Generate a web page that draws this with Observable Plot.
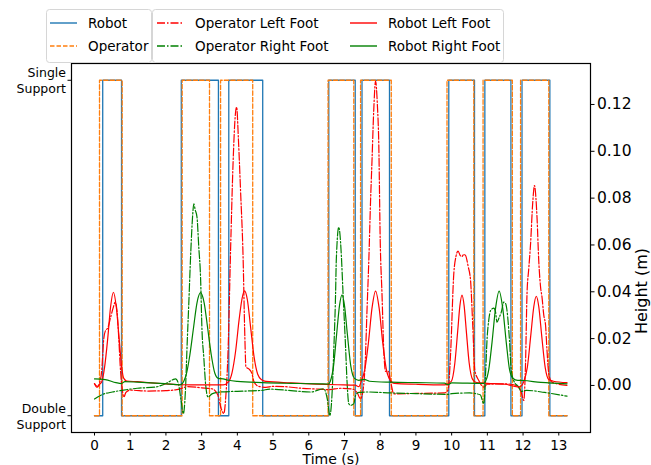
<!DOCTYPE html>
<html><head><meta charset="utf-8">
<script src="https://cdn.jsdelivr.net/npm/d3@7"></script>
<script src="https://cdn.jsdelivr.net/npm/@observablehq/plot@0.6"></script>
<style>
body{margin:0;background:#fff;}
#wrap{position:relative;width:651px;height:465px;font-family:"DejaVu Sans",sans-serif;overflow:hidden;}
#wrap > svg{position:absolute;left:0;top:0;}
</style></head><body><div id="wrap"></div>
<script>
// ---------- data ----------
const xTicks = [0,1,2,3,4,5,6,7,8,9,10,11,12,13];
const heightTicks = [0,0.02,0.04,0.06,0.08,0.10,0.12];
const phaseTicks = [0,1];
const phaseLabels = ["Double\nSupport","Single\nSupport"];

// support phase steps: [time, 0=double / 1=single]
const robotPhase = [[0,0],[0.23,1],[0.757,0],[2.43,1],[3.47,0],[3.76,1],[4.71,0],[6.56,1],[7.3,0],[7.49,1],[8.26,0],[9.92,1],[10.64,0],[10.93,1],[11.66,0],[11.97,1],[12.75,0],[13.23,0]];
const operatorPhase = [[0,0],[0.14,1],[0.775,0],[2.455,1],[3.22,0],[3.53,1],[4.43,0],[6.54,1],[7.26,0],[7.45,1],[8.31,0],[9.87,1],[10.62,0],[10.88,1],[11.7,0],[11.93,1],[12.72,0],[13.23,0]];

// foot heights: [time (s), height (m)]
const operatorLeftFoot = [[0,0.0007],[0.07,-0.0008],[0.14,0.001],[0.2,0.006],[0.26,0.02],[0.31,0.0235],[0.37,0.0245],[0.45,0.029],[0.52,0.033],[0.58,0.0355],[0.63,0.032],[0.68,0.02],[0.73,0.006],[0.78,-0.002],[0.82,-0.005],[0.88,-0.003],[1.0,-0.002],[1.5,-0.0024],[2.0,-0.0022],[2.3,-0.0018],[2.45,-0.0012],[2.6,-0.0005],[3.0,-0.001],[3.3,-0.0015],[3.45,-0.004],[3.55,-0.01],[3.62,-0.012],[3.68,-0.004],[3.74,0.015],[3.81,0.0577],[3.88,0.095],[3.94,0.115],[3.98,0.1189],[4.03,0.105],[4.09,0.083],[4.16,0.055],[4.21,0.0206],[4.24,0.0078],[4.32,0.0071],[4.41,0.005],[4.47,0.0014],[4.6,-0.0004],[4.8,-0.0008],[5.0,-0.0004],[5.3,-0.0005],[5.8,-0.0012],[6.3,-0.0016],[6.55,-0.0018],[6.9,-0.0012],[7.2,-0.0015],[7.35,-0.003],[7.45,-0.0057],[7.52,-0.002],[7.58,0.01],[7.63,0.032],[7.68,0.053],[7.73,0.079],[7.77,0.096],[7.82,0.118],[7.87,0.13],[7.92,0.12],[7.96,0.103],[8.0,0.062],[8.05,0.039],[8.1,0.015],[8.15,0.006],[8.23,0.006],[8.3,0.001],[8.38,-0.0036],[9.0,-0.0034],[9.8,-0.0032],[9.9,-0.002],[9.97,0.0135],[10.06,0.0477],[10.12,0.055],[10.18,0.0574],[10.24,0.0555],[10.29,0.0551],[10.34,0.056],[10.39,0.0555],[10.46,0.051],[10.53,0.0448],[10.59,0.026],[10.65,0.0064],[10.76,0.0021],[10.85,-0.0002],[10.9,-0.0007],[11.0,0.0005],[11.5,0.0007],[11.8,0.0],[11.95,-0.003],[12.02,-0.0064],[12.07,0.01],[12.11,0.039],[12.16,0.05],[12.21,0.0605],[12.27,0.078],[12.32,0.0854],[12.36,0.08],[12.39,0.0719],[12.44,0.053],[12.49,0.042],[12.53,0.0377],[12.58,0.03],[12.63,0.0256],[12.67,0.015],[12.72,0.005],[12.8,0.0015],[12.95,0.0007],[13.23,0.0]];
const operatorRightFoot = [[0,-0.0058],[0.2,-0.004],[0.5,-0.0028],[0.77,-0.0021],[1.2,-0.0012],[1.7,-0.0007],[2.07,0.0014],[2.2,0.0025],[2.27,0.0028],[2.35,0.0007],[2.42,-0.006],[2.49,-0.012],[2.54,-0.004],[2.6,0.02],[2.64,0.0349],[2.69,0.0548],[2.75,0.073],[2.78,0.0776],[2.82,0.075],[2.87,0.0719],[2.92,0.059],[2.97,0.046],[3.01,0.0235],[3.06,0.0121],[3.11,0.0007],[3.18,-0.005],[3.29,-0.0036],[3.53,-0.0028],[4.0,-0.0025],[4.69,-0.0021],[4.9,-0.0016],[5.5,-0.0022],[6.05,-0.0028],[6.42,-0.0014],[6.52,-0.006],[6.59,-0.0128],[6.65,-0.004],[6.7,0.015],[6.75,0.039],[6.77,0.0534],[6.84,0.0676],[6.87,0.065],[6.91,0.056],[6.96,0.039],[7.03,0.0164],[7.07,0.002],[7.12,-0.0078],[7.17,-0.0085],[7.26,-0.0078],[7.31,-0.0043],[7.4,-0.003],[7.63,-0.0028],[8.3,-0.0032],[9.0,-0.0035],[9.9,-0.0038],[10.0,-0.0035],[10.5,-0.0032],[10.8,-0.004],[10.9,-0.0078],[10.95,0.005],[10.99,0.0192],[11.04,0.028],[11.09,0.032],[11.13,0.0327],[11.18,0.033],[11.23,0.0313],[11.27,0.027],[11.33,0.029],[11.39,0.0313],[11.46,0.0356],[11.51,0.035],[11.55,0.032],[11.62,0.0192],[11.67,0.0064],[11.74,0.002],[11.88,-0.0007],[11.95,-0.0025],[12.1,-0.0021],[12.6,-0.003],[13.23,-0.0046]];
const robotLeftFoot = [[0,0.0008],[0.08,-0.0004],[0.15,0.0006],[0.2,0.0015],[0.28,0.0075],[0.37,0.02],[0.45,0.0335],[0.53,0.0398],[0.61,0.0335],[0.69,0.02],[0.76,0.008],[0.82,0.003],[0.9,0.0019],[1.2,0.0016],[1.6,0.0011],[2.0,0.0007],[2.4,0.0003],[3.0,0.0002],[3.6,0.0002],[3.75,0.0015],[3.85,0.0054],[3.95,0.0145],[4.05,0.0282],[4.13,0.037],[4.2,0.0404],[4.28,0.0366],[4.37,0.025],[4.47,0.012],[4.57,0.0048],[4.68,0.0024],[4.8,0.0017],[5.5,0.0011],[6.2,0.0006],[6.8,0.0003],[7.3,0.0001],[7.4,-0.0005],[7.47,0.0018],[7.57,0.007],[7.67,0.0183],[7.77,0.033],[7.87,0.0403],[7.97,0.033],[8.07,0.0183],[8.17,0.007],[8.27,0.0025],[8.4,0.0009],[9.0,0.0005],[9.8,0.0002],[9.99,0.0017],[10.09,0.0096],[10.17,0.0233],[10.23,0.0339],[10.29,0.0386],[10.35,0.034],[10.41,0.0234],[10.49,0.0097],[10.59,0.0025],[10.7,0.0012],[11.0,0.0009],[11.5,0.0005],[11.85,-0.0006],[11.95,-0.0002],[12.02,0.0017],[12.12,0.0078],[12.22,0.022],[12.3,0.0336],[12.37,0.0381],[12.44,0.0336],[12.52,0.0215],[12.62,0.0076],[12.72,0.0025],[12.85,0.0018],[13.23,0.0012]];
const robotRightFoot = [[0,0.0028],[0.3,0.0025],[0.6,0.0012],[0.75,0.0008],[0.85,0.0016],[1.2,0.0014],[1.7,0.001],[2.1,0.0006],[2.4,0.0003],[2.5,0.0018],[2.58,0.0054],[2.67,0.013],[2.77,0.0243],[2.87,0.0353],[2.97,0.0396],[3.07,0.0353],[3.17,0.0243],[3.27,0.013],[3.37,0.0052],[3.47,0.003],[3.6,0.0028],[3.75,0.0022],[4.0,0.0017],[4.7,0.0012],[5.5,0.0009],[6.3,0.0007],[6.55,0.0006],[6.6,0.0017],[6.69,0.0079],[6.78,0.0219],[6.86,0.0341],[6.93,0.0387],[7.0,0.0341],[7.08,0.0219],[7.18,0.0079],[7.28,0.003],[7.4,0.0022],[7.55,0.0026],[7.7,0.0018],[8.3,0.0014],[9.0,0.0012],[9.8,0.001],[9.9,0.0003],[10.0,0.0011],[10.9,0.0009],[10.95,0.0018],[11.04,0.0069],[11.13,0.0183],[11.23,0.033],[11.33,0.0403],[11.43,0.033],[11.53,0.0183],[11.62,0.0069],[11.72,0.003],[11.85,0.0022],[12.0,0.0021],[12.5,0.0013],[13.23,0.0007]];

// ---------- layout ----------
const W = 651, H = 465;
const M = {marginLeft:71, marginRight:61, marginTop:63, marginBottom:33};
const xDomain = [-0.644, 13.888];
const C = {blue:"#1f77b4", orange:"#ff7f0e", red:"#ff0000", green:"#008000"};
const DASH = "4.5,2", DASHDOT = "8,2,1.5,2";
const font = {fontFamily:"DejaVu Sans, sans-serif", background:"transparent", overflow:"visible"};

const phasePlot = Plot.plot({
  width:W, height:H, ...M, style:{...font, fontSize:"12.5px"},
  x:{domain:xDomain},
  y:{domain:[-0.05,1.05]},
  marks:[
    Plot.axisX({ticks:xTicks, tickSize:3.5, tickPadding:4, fontSize:13.5, label:null}),
    Plot.axisY({ticks:phaseTicks, tickFormat:d=>phaseLabels[d], tickSize:3.5, tickPadding:2, lineHeight:1.25, fontSize:12.5, label:null}),
    Plot.line(robotPhase, {x:d=>d[0], y:d=>d[1], curve:"step-after", stroke:C.blue, strokeWidth:1.3}),
    Plot.line(operatorPhase, {x:d=>d[0], y:d=>d[1], curve:"step-after", stroke:C.orange, strokeWidth:1.3, strokeDasharray:DASH}),
    Plot.text(["Time (s)"], {frameAnchor:"bottom", lineAnchor:"middle", dy:27, text:d=>d, fontSize:14})
  ]
});

const heightPlot = Plot.plot({
  width:W, height:H, ...M, style:{...font, fontSize:"15.5px"},
  x:{domain:xDomain, axis:null},
  y:{domain:[-0.0201, 0.1375]},
  marks:[
    Plot.axisY({anchor:"right", ticks:heightTicks, tickFormat:d3.format(".2f"), tickSize:3.5, tickPadding:3, fontSize:15.5, label:null}),
    Plot.line(operatorLeftFoot, {x:d=>d[0], y:d=>d[1], curve:"monotone-x", stroke:C.red, strokeWidth:1.2, strokeDasharray:DASHDOT}),
    Plot.line(operatorRightFoot, {x:d=>d[0], y:d=>d[1], curve:"monotone-x", stroke:C.green, strokeWidth:1.2, strokeDasharray:DASHDOT}),
    Plot.line(robotLeftFoot, {x:d=>d[0], y:d=>d[1], curve:"monotone-x", stroke:C.red, strokeWidth:1.2}),
    Plot.line(robotRightFoot, {x:d=>d[0], y:d=>d[1], curve:"monotone-x", stroke:C.green, strokeWidth:1.2}),
    Plot.frame({stroke:"black", strokeWidth:1.2}),
    Plot.text(["Height (m)"], {frameAnchor:"right", dx:51, rotate:-90, text:d=>d, fontSize:16})
  ]
});

const wrap = document.getElementById("wrap");
wrap.appendChild(phasePlot);
wrap.appendChild(heightPlot);

// ---------- legend ----------
const legendItems = [
  {box:0, x:50, y:23, label:"Robot", color:C.blue, dash:null},
  {box:0, x:50, y:46, label:"Operator", color:C.orange, dash:DASH},
  {box:1, x:157, y:23, label:"Operator Left Foot", color:C.red, dash:DASHDOT},
  {box:1, x:157, y:46, label:"Operator Right Foot", color:C.green, dash:DASHDOT},
  {box:1, x:350, y:23, label:"Robot Left Foot", color:C.red, dash:null},
  {box:1, x:350, y:46, label:"Robot Right Foot", color:C.green, dash:null}
];
const boxes = [{x:46, y:9, w:105, h:53}, {x:152, y:9, w:351, h:53}];
const lg = d3.create("svg").attr("width", W).attr("height", 70)
  .style("font-family","DejaVu Sans, sans-serif").style("font-size","13.5px");
lg.selectAll("rect").data(boxes).join("rect")
  .attr("x", d=>d.x+0.5).attr("y", d=>d.y+0.5).attr("width", d=>d.w).attr("height", d=>d.h)
  .attr("rx", 3).attr("fill","rgba(255,255,255,0.8)").attr("stroke","#d6d6d6");
const it = lg.selectAll("g.item").data(legendItems).join("g").attr("class","item");
it.append("line").attr("x1", d=>d.x).attr("x2", d=>d.x+27).attr("y1", d=>d.y).attr("y2", d=>d.y)
  .attr("stroke", d=>d.color).attr("stroke-width",1.4).attr("stroke-dasharray", d=>d.dash);
it.append("text").attr("x", d=>d.x+38).attr("y", d=>d.y).attr("dy","0.35em").text(d=>d.label);
wrap.appendChild(lg.node());
</script>
</body></html>
